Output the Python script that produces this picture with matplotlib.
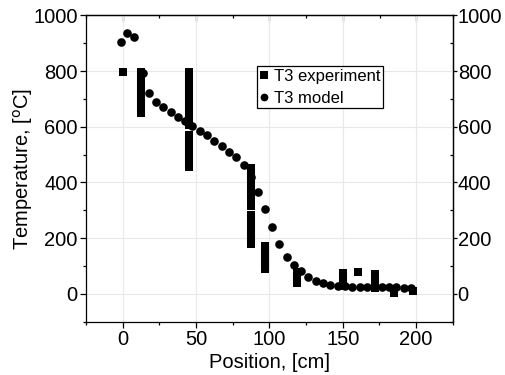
import matplotlib
matplotlib.use("Agg")
import matplotlib.pyplot as plt
import numpy as np

plt.rcParams['font.family'] = ['Liberation Sans', 'DejaVu Sans']

# Experiment: each entry is a vertical run of stacked squares (lo == hi -> single square)
exp_x = [0, 12.6, 45, 45, 87.5, 87.5, 87.5, 97.3, 118.5, 150.3, 160.5, 172, 185, 198]
exp_lo = [795, 650, 606, 455, 344, 316, 180, 88, 40, 28, 80, 22, 5, 12]
exp_hi = [795, 795, 795, 571, 452, 316, 285, 173, 78, 75, 80, 70, 5, 12]

# Model
model_x = [-1.5, 3.2, 8, 14, 18.2, 22.8, 27.8, 32.6, 37.6, 42.6, 47.4, 52.4, 57.4,
           62.4, 67.4, 72.4, 77.4, 82.4, 87.2, 92.2, 97, 101.8, 106.8, 111.8, 117,
           121.5, 126.6, 131.6, 136.6, 141.4, 146.4, 151.4, 156.4, 161.4, 166.4,
           171.4, 176.4, 181.4, 186.4, 191.4, 196.4]
model_y = [904, 936, 922, 792, 722, 690, 670, 652, 636, 622, 604, 586, 569,
           549, 530, 508, 490, 463, 420, 367, 305, 240, 179, 132, 103,
           82, 61, 48, 38, 33, 30, 28, 26, 25, 25,
           24, 24, 23, 23, 22, 22]

x_ticks = [0, 50, 100, 150, 200]
y_ticks = [0, 200, 400, 600, 800, 1000]

fig = plt.figure(figsize=(5.06, 3.75), dpi=100)
ax = fig.add_axes([0.170, 0.142, 0.725, 0.817])

ms = 5.8
ax.vlines(exp_x, exp_lo, exp_hi, colors='black', linewidth=ms, zorder=3)
ax.plot(exp_x, exp_lo, 's', color='black', ms=ms, mew=0, zorder=3)
ax.plot(exp_x, exp_hi, 's', color='black', ms=ms, mew=0, zorder=3,
        label='T3 experiment')
ax.plot(model_x, model_y, 'o', color='black', ms=ms + 0.4, mew=0, zorder=4,
        label='T3 model')

ax.set_xlim(-25, 225)
ax.set_ylim(-100, 1000)
ax.set_xticks(x_ticks)
ax.set_yticks(y_ticks)
ax.set_xticks(np.arange(-25, 226, 25), minor=True)
ax.set_yticks(np.arange(-100, 1001, 100), minor=True)
ax.grid(True, which='major', color='#e8e8e8', linewidth=0.8)
ax.set_axisbelow(True)

fs = 14.5
ax.tick_params(which='major', direction='out', length=4, width=0.9, labelsize=fs,
               top=False, right=False, pad=2)
ax.tick_params(which='minor', direction='out', length=2.5, width=0.9,
               top=False, right=False)

sec_x = ax.secondary_xaxis('top')
sec_x.set_xticks(x_ticks)
sec_x.set_xticks(np.arange(-25, 226, 25), minor=True)
sec_x.tick_params(which='major', direction='in', length=4, width=0.9, labeltop=False)
sec_x.tick_params(which='minor', direction='in', length=2.5, width=0.9)

sec_y = ax.secondary_yaxis('right')
sec_y.set_yticks(y_ticks)
sec_y.set_yticks(np.arange(-100, 1001, 100), minor=True)
sec_y.tick_params(which='major', direction='out', length=3, width=0.9,
                  labelsize=fs, pad=0.5)
sec_y.tick_params(which='minor', direction='in', length=2.5, width=0.9)

for s in list(ax.spines.values()):
    s.set_linewidth(0.9)
sec_x.spines['top'].set_linewidth(0.9)
sec_y.spines['right'].set_linewidth(0.9)

ax.set_xlabel('Position, [cm]', fontsize=fs, labelpad=3)
ax.set_ylabel('Temperature, [$^{\\rm o}$C]', fontsize=fs, labelpad=-1)

leg = ax.legend(loc='upper left', bbox_to_anchor=(0.466, 0.834), fontsize=12,
                frameon=True, fancybox=False, edgecolor='black', framealpha=1,
                handlelength=0.5, handletextpad=0.35, borderpad=0.15,
                labelspacing=0.42, borderaxespad=0, markerscale=0.9)
leg.get_frame().set_linewidth(0.9)

fig.savefig('out.png', dpi=100)
